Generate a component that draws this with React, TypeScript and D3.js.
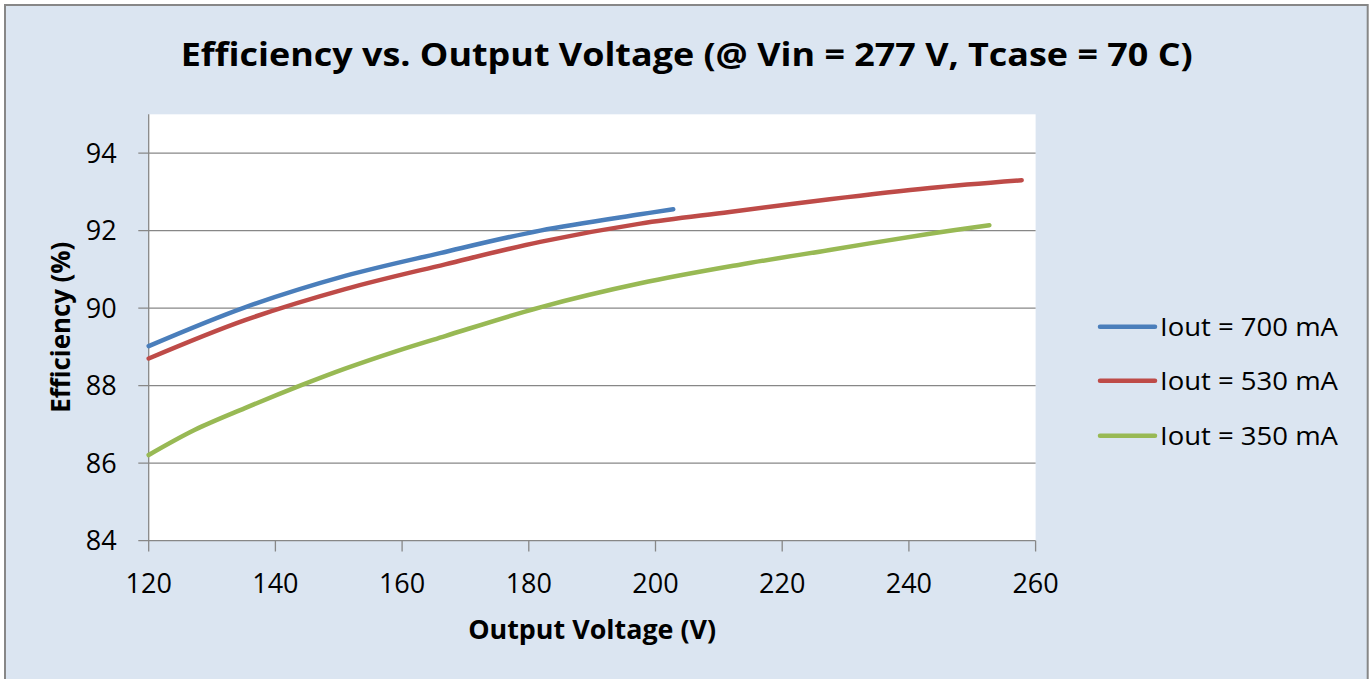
import React from "react";
import * as d3 from "d3";

const xTicks = [120, 140, 160, 180, 200, 220, 240, 260];
const yTicks = [84, 86, 88, 90, 92, 94];

const v700 = [120, 135.2, 151, 166, 181.8, 197.6, 202.8];
const e700 = [89.02, 90.02, 90.83, 91.42, 92.0, 92.42, 92.55];

const v530 = [120, 135.2, 151, 166.8, 181.8, 197.6, 211.7, 227.5, 243.3, 257.8];
const e530 = [88.7, 89.69, 90.49, 91.13, 91.71, 92.18, 92.48, 92.81, 93.1, 93.3];

const v350 = [120, 127.3, 135.2, 143.9, 151, 158.9, 166.8, 181.8, 197.6, 213.3, 227.5, 243.3, 252.7];
const e350 = [86.21, 86.86, 87.42, 88.0, 88.44, 88.88, 89.28, 90.02, 90.64, 91.12, 91.5, 91.92, 92.14];

const seriesNames = ["Iout = 700 mA", "Iout = 530 mA", "Iout = 350 mA"];
const seriesColors = ["#4A7EBB", "#BE4B48", "#98B954"];

const title = "Efficiency vs. Output Voltage (@ Vin = 277 V, Tcase = 70 C)";
const xTitle = "Output Voltage (V)";
const yTitle = "Efficiency (%)";

export default function App() {
  const W = 1371;
  const H = 679;
  const left = 148.7;
  const right = 1035.6;
  const top = 114.3;
  const bottom = 540.7;
  const x = d3.scaleLinear().domain([120, 260]).range([left, right]);
  const y = d3.scaleLinear().domain([84, 95]).range([bottom, top]);

  const series = [
    v700.map((v, i) => [v, e700[i]] as [number, number]),
    v530.map((v, i) => [v, e530[i]] as [number, number]),
    v350.map((v, i) => [v, e350[i]] as [number, number]),
  ];
  const line = d3
    .line<[number, number]>()
    .x((d) => x(d[0]))
    .y((d) => y(d[1]))
    .curve(d3.curveCatmullRom.alpha(0.5));

  const font = "'Open Sans', 'Noto Sans', sans-serif";
  const gridColor = "#878787";
  const legendY = [326.7, 380.7, 435.7];

  return (
    <svg
      width={W}
      height={H}
      style={{ position: "absolute", left: 0, top: 0, background: "#ffffff" }}
      fontFamily={font}
    >
      <rect x={5} y={5} width={1362.7} height={700} fill="#DBE5F1" stroke="#878787" strokeWidth={2} />
      <text
        x={686.7}
        y={65.7}
        textAnchor="middle"
        fontSize={32}
        fontWeight="bold"
        fill="#000"
        textLength={1012}
        lengthAdjust="spacingAndGlyphs"
      >
        {title}
      </text>
      <rect x={left} y={top} width={right - left} height={bottom - top} fill="#ffffff" />
      {yTicks.map((t) => (
        <g key={"y" + t}>
          <line x1={138.3} x2={right} y1={y(t)} y2={y(t)} stroke={gridColor} strokeWidth={1.3} />
          <text x={116.7} y={y(t)} dy="0.36em" textAnchor="end" fontSize={27} fill="#000">
            {t}
          </text>
        </g>
      ))}
      <line x1={left} x2={left} y1={top} y2={bottom} stroke={gridColor} strokeWidth={1.3} />
      {xTicks.map((t) => (
        <g key={"x" + t}>
          <line x1={x(t)} x2={x(t)} y1={bottom} y2={551.5} stroke={gridColor} strokeWidth={1.3} />
          <text x={x(t)} y={593.3} textAnchor="middle" fontSize={27} fill="#000">
            {t}
          </text>
        </g>
      ))}
      <text
        x={(left + right) / 2}
        y={639.3}
        textAnchor="middle"
        fontSize={27}
        fontWeight="bold"
        fill="#000"
        textLength={248}
        lengthAdjust="spacingAndGlyphs"
      >
        {xTitle}
      </text>
      <text
        transform={`translate(70,327.2) rotate(-90)`}
        textAnchor="middle"
        fontSize={27}
        fontWeight="bold"
        fill="#000"
        textLength={171}
        lengthAdjust="spacingAndGlyphs"
      >
        {yTitle}
      </text>
      {series.map((s, i) => (
        <path
          key={"s" + i}
          d={line(s) || ""}
          fill="none"
          stroke={seriesColors[i]}
          strokeWidth={4.5}
          strokeLinecap="round"
          strokeLinejoin="round"
        />
      ))}
      {seriesNames.map((n, i) => (
        <g key={"l" + i}>
          <line
            x1={1100}
            x2={1155}
            y1={legendY[i]}
            y2={legendY[i]}
            stroke={seriesColors[i]}
            strokeWidth={4.5}
            strokeLinecap="round"
          />
          <text
            x={1160}
            y={legendY[i] + 9.3}
            fontSize={26}
            fill="#000"
            textLength={178}
            lengthAdjust="spacingAndGlyphs"
          >
            {n}
          </text>
        </g>
      ))}
    </svg>
  );
}
